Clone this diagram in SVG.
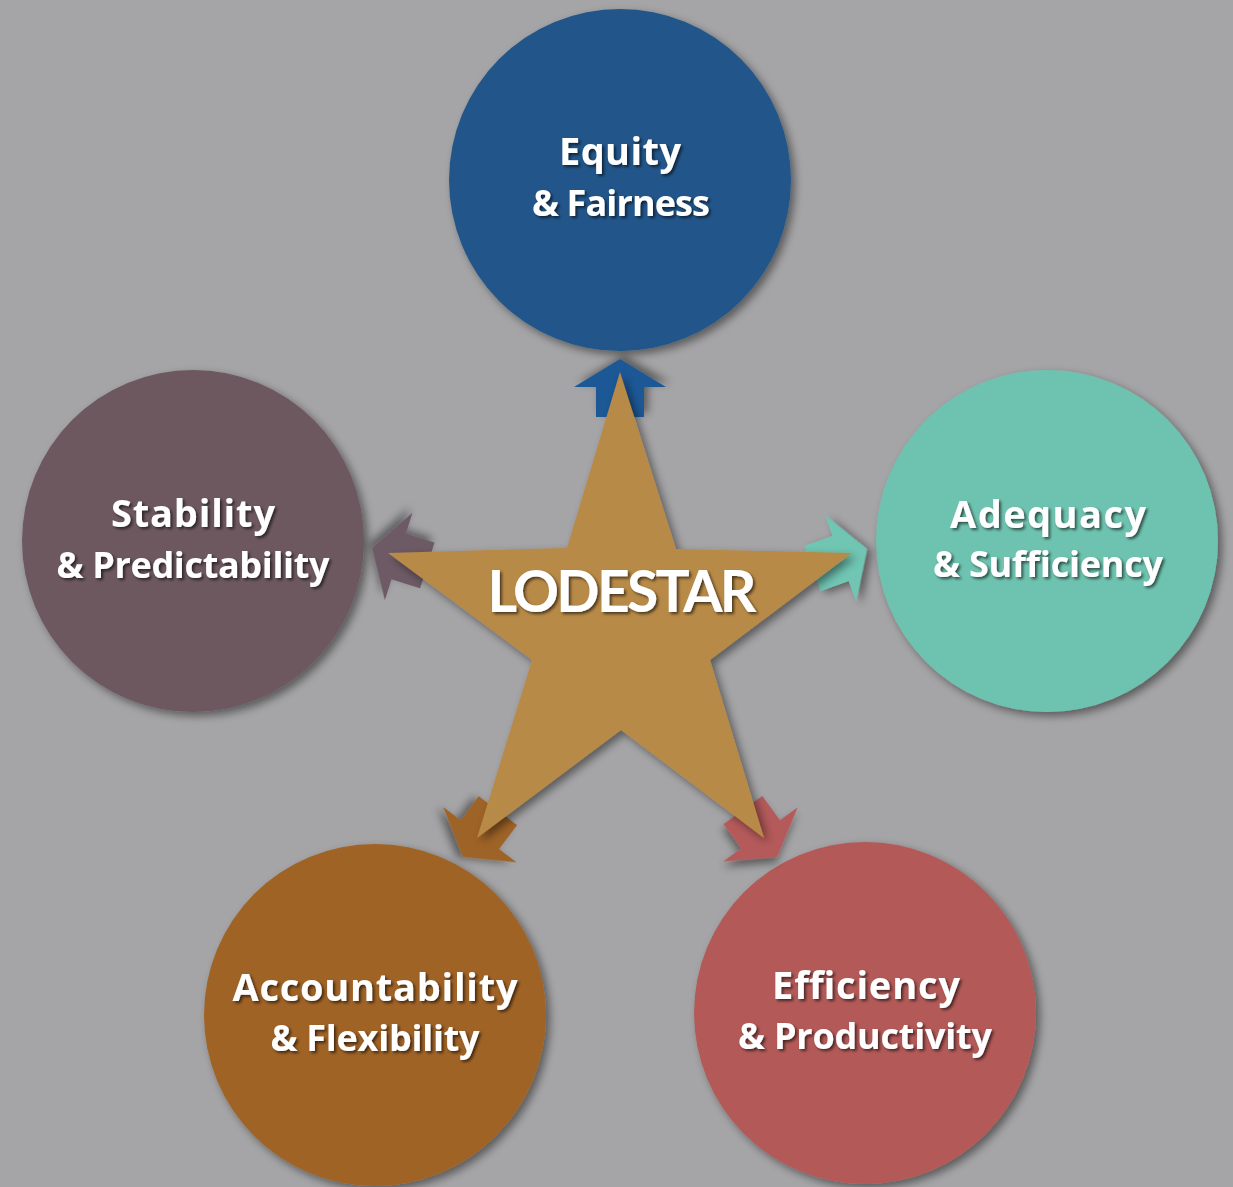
<svg xmlns="http://www.w3.org/2000/svg" width="1233" height="1187" viewBox="0 0 1233 1187">
  <defs>
    <filter id="shadow" x="-20%" y="-20%" width="140%" height="140%">
      <feDropShadow dx="4" dy="4" stdDeviation="4" flood-color="#000" flood-opacity="0.45"/>
    </filter>
    <filter id="textShadow" x="-10%" y="-30%" width="120%" height="160%">
      <feDropShadow dx="2" dy="2" stdDeviation="1.5" flood-color="#000" flood-opacity="0.6"/>
    </filter>
    <!-- block arrow pointing along +x, tip at the origin -->
    <polygon id="arrow" points="0,0 -28,-46 -28,-24 -58,-24 -58,24 -28,24 -28,46"/>
  </defs>
  <style>
    .label { font-family: "Open Sans", Lato, "Liberation Sans", sans-serif; font-weight: bold; font-size: 36px; fill: #fff; text-anchor: middle; filter: url(#textShadow); }
    .head { font-size: 38px; }
    .title { font-family: Lato, "Open Sans", "Liberation Sans", sans-serif; font-size: 57px; }
    .node circle { filter: url(#shadow); }
    .arr { filter: url(#shadow); }
  </style>

  <rect width="1233" height="1187" fill="#a5a5a7"/>

  <g id="node-equity" class="node">
    <circle cx="620" cy="180" r="171" fill="#22578a"/>
    <text class="label head" x="620" y="165" textLength="122" lengthAdjust="spacing">Equity</text>
    <text class="label" x="621" y="216" textLength="178" lengthAdjust="spacing">&amp; Fairness</text>
  </g>

  <g id="node-stability" class="node">
    <circle cx="193" cy="541" r="171" fill="#6d5961"/>
    <text class="label head" x="193" y="527" textLength="164" lengthAdjust="spacing">Stability</text>
    <text class="label" x="193" y="578" textLength="273" lengthAdjust="spacing">&amp; Predictability</text>
  </g>

  <g id="node-adequacy" class="node">
    <circle cx="1047" cy="541" r="171" fill="#6ec3b0"/>
    <text class="label head" x="1048" y="528" textLength="196" lengthAdjust="spacing">Adequacy</text>
    <text class="label" x="1048" y="577" textLength="230" lengthAdjust="spacing">&amp; Sufficiency</text>
  </g>

  <g id="node-accountability" class="node">
    <circle cx="375" cy="1015" r="171" fill="#a06425"/>
    <text class="label head" x="375" y="1001" textLength="285" lengthAdjust="spacing">Accountability</text>
    <text class="label" x="375" y="1051" textLength="209" lengthAdjust="spacing">&amp; Flexibility</text>
  </g>

  <g id="node-efficiency" class="node">
    <circle cx="865" cy="1013" r="171" fill="#b35a58"/>
    <text class="label head" x="866" y="999" textLength="188" lengthAdjust="spacing">Efficiency</text>
    <text class="label" x="865" y="1049" textLength="254" lengthAdjust="spacing">&amp; Productivity</text>
  </g>

  <g id="connectors">
    <use href="#arrow" class="arr" fill="#1f5996" transform="translate(620,359) rotate(-90)"/>
    <use href="#arrow" class="arr" fill="#6d5a65" transform="translate(372,548) rotate(197.5)"/>
    <use href="#arrow" class="arr" fill="#6fc5b3" transform="translate(867,549) rotate(-19.7)"/>
    <use href="#arrow" class="arr" fill="#9e6427" transform="translate(463,857) rotate(127)"/>
    <use href="#arrow" class="arr" fill="#b45a5a" transform="translate(777,857) rotate(54)"/>
  </g>

  <g id="node-lodestar">
    <polygon points="620,372 676,549 852,553 710,660 764,838 621,730 477,838 532,660 388,553 567,548" fill="#b88a47" filter="url(#shadow)"/>
    <text class="label title" x="622" y="612" textLength="269" lengthAdjust="spacing">LODESTAR</text>
  </g>
</svg>
